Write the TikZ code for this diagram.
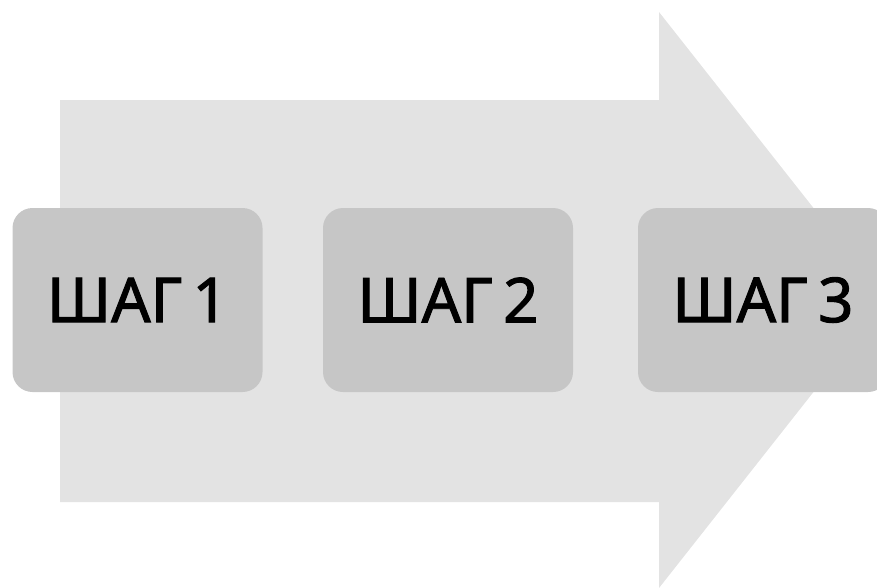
\documentclass[tikz,border=0pt]{standalone}
\usepackage{fontspec}
\setmainfont{Noto Sans}[FakeBold=1.6]
\definecolor{arrowgray}{HTML}{E3E3E3}
\definecolor{boxgray}{HTML}{C6C6C6}
\begin{document}
\begin{tikzpicture}[x=1pt,y=-1pt,
  stepbox/.style={fill=boxgray, rounded corners=20pt, minimum width=250pt, minimum height=184pt, inner sep=0pt, font=\bfseries\fontsize{62}{70}\selectfont, text=black}]
\useasboundingbox (0,0) rectangle (877,587);
\clip (0,0) rectangle (877,587);
\fill[arrowgray] (60,100) -- (659,100) -- (659,12) -- (886,300) -- (659,588) -- (659,502) -- (60,502) -- cycle;
\node[stepbox] (s1) at (137.5,300) {ШАГ\,1};
\node[stepbox] (s2) at (448,300) {ШАГ\,2};
\node[stepbox] (s3) at (763,300) {ШАГ\,3};
\end{tikzpicture}
\end{document}
